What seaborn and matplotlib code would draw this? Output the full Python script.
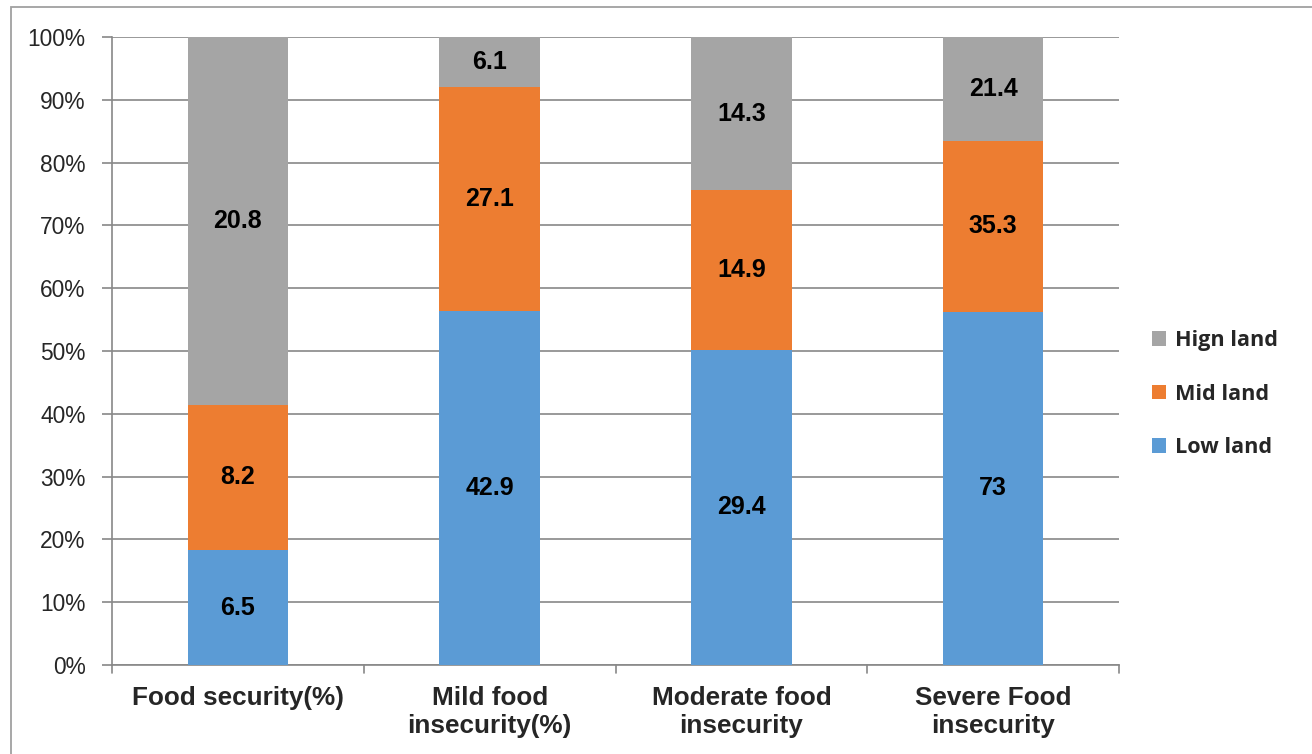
import numpy as np
import pandas as pd
import seaborn as sns
import matplotlib.pyplot as plt
from matplotlib.patches import Rectangle, Patch
from matplotlib.lines import Line2D

categories = ["Food security(%)", "Mild food\ninsecurity(%)",
              "Moderate food\ninsecurity", "Severe Food\ninsecurity"]
low_land = [6.5, 42.9, 29.4, 73]
mid_land = [8.2, 27.1, 14.9, 35.3]
high_land = [20.8, 6.1, 14.3, 21.4]
series_names = ["Low land", "Mid land", "Hign land"]
colors = ["#5B9BD5", "#ED7D31", "#A5A5A5"]

sns.set_theme(style="white")
plt.rcParams["font.family"] = ["Liberation Sans", "DejaVu Sans"]

raw = pd.DataFrame({"category": categories, "Low land": low_land,
                    "Mid land": mid_land, "Hign land": high_land})
totals = raw[series_names].sum(axis=1)
share = raw[series_names].div(totals, axis=0) * 100

fig = plt.figure(figsize=(13.12, 7.54), dpi=100)
ax = fig.add_axes([112 / 1312, 1 - 665 / 754, (1119 - 112) / 1312, (665 - 37) / 754])

bottom = np.zeros(len(categories))
for name, col in zip(series_names, colors):
    df = pd.DataFrame({"category": categories, "pct": share[name].values})
    sns.barplot(data=df, x="category", y="pct", color=col, width=0.4,
                bottom=bottom, ax=ax, saturation=1, linewidth=0,
                edgecolor="none", zorder=3)
    for i, (p, v) in enumerate(zip(share[name].values, raw[name].values)):
        ax.text(i, bottom[i] + p / 2, f"{v:g}", ha="center", va="center",
                fontsize=18, fontweight="bold", color="black", zorder=4)
    bottom = bottom + share[name].values

ax.set_xlim(-0.5, len(categories) - 0.5)
ax.set_ylim(0, 100)
ax.set_yticks(np.arange(0, 101, 10))
ax.set_yticklabels([f"{t}%" for t in range(0, 101, 10)], fontsize=16.4)
ax.set_xticks(range(len(categories)))
ax.set_xticklabels(categories, fontsize=18.8, fontweight="bold", linespacing=1.2)
ax.tick_params(axis="x", length=0, pad=15)
ax.tick_params(axis="y", length=7, width=1.2, color="#888888", pad=12, left=True)
ax.set_xlabel("")
ax.set_ylabel("")
ax.yaxis.grid(True, color="#888888", linewidth=1.2, zorder=0)
ax.set_axisbelow(True)
for s in ["top", "right"]:
    ax.spines[s].set_visible(False)
for s in ["left", "bottom"]:
    ax.spines[s].set_color("#888888")
    ax.spines[s].set_linewidth(1.2)

# category boundary ticks below the baseline
for xb in np.arange(-0.5, len(categories), 1.0):
    ax.add_line(Line2D([xb, xb], [0, -1.2], transform=ax.transData,
                       color="#888888", linewidth=1.2, clip_on=False))

handles = [Patch(facecolor=c, edgecolor="none") for c in colors[::-1]]
leg = fig.legend(handles, series_names[::-1], loc="center left",
                 bbox_to_anchor=(1152 / 1312, 1 - 394 / 754), frameon=False,
                 prop={"family": ["Open Sans", "DejaVu Sans"], "weight": "bold", "size": 15.6},
                 handlelength=0.66, handleheight=0.66, handletextpad=0.4,
                 labelspacing=1.5, borderpad=0, borderaxespad=0)

# outer chart frame
fig.add_artist(Rectangle((11 / 1312, -0.1), 1.2, 1 - 7 / 754 + 0.1,
                         transform=fig.transFigure, fill=False,
                         edgecolor="#A0A0A0", linewidth=1.3))

fig.savefig("out.png", dpi=100)
